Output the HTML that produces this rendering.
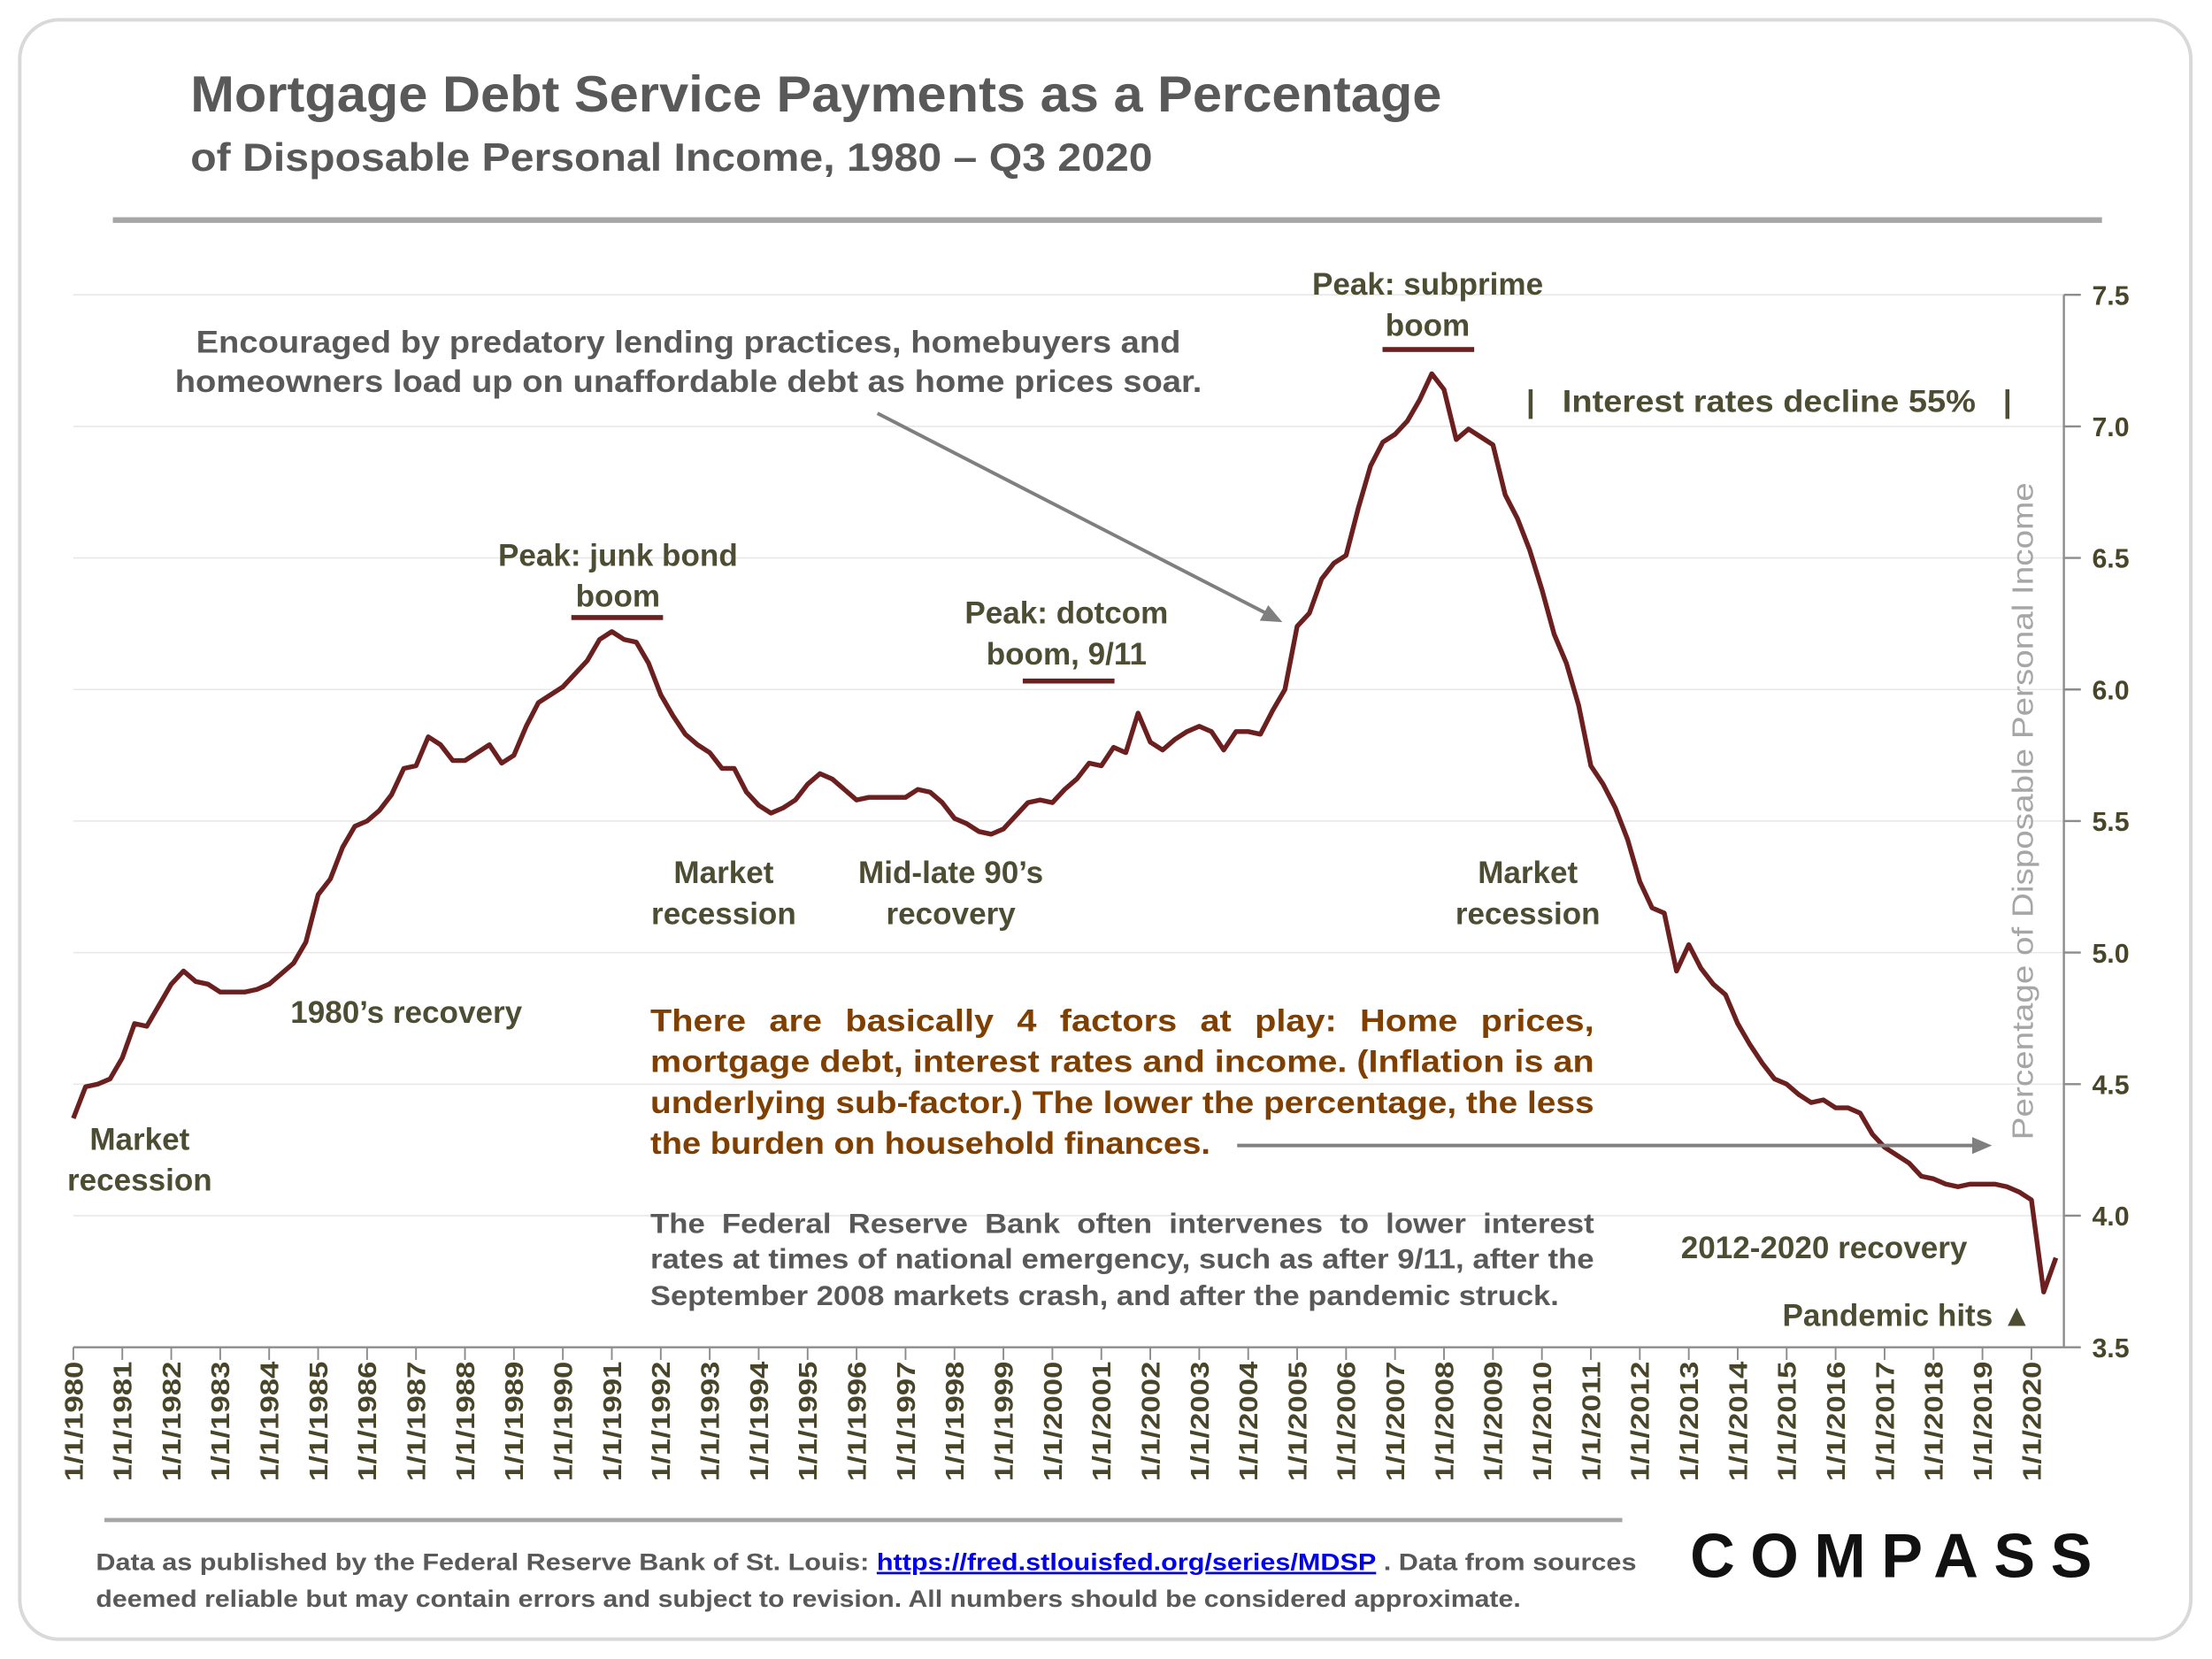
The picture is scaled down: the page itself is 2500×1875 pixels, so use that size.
<!DOCTYPE html>
<html><head><meta charset="utf-8"><style>
html,body{margin:0;padding:0;background:#fff;}
svg{display:block;}
text{font-family:"Liberation Sans",sans-serif;font-weight:bold;}
</style></head><body>
<svg id="chart" width="2500" height="1875" viewBox="0 0 1568 1176" xmlns="http://www.w3.org/2000/svg">
<rect x="14" y="14" width="1539" height="1148" rx="28" fill="#fff" stroke="#d9d9d9" stroke-width="2.5"/>
<text x="135" y="79" font-size="36" fill="#595959" textLength="887" lengthAdjust="spacingAndGlyphs">Mortgage Debt Service Payments as a Percentage</text>
<text x="135" y="121" font-size="28" fill="#595959" textLength="682" lengthAdjust="spacingAndGlyphs">of Disposable Personal Income, 1980 – Q3 2020</text>
<rect x="80" y="154" width="1410" height="4" fill="#a6a6a6"/>
<g id="grid"></g>
<g id="axes"></g>
<g id="series"></g>
<text transform="translate(1441,575) rotate(-90)" text-anchor="middle" font-size="21" fill="#a6a6a6" style="font-weight:normal" textLength="466" lengthAdjust="spacingAndGlyphs">Percentage of Disposable Personal Income</text>
<g fill="#4d4d33" font-size="22" text-anchor="middle">
<text x="1012" y="209">Peak: subprime</text>
<text x="1012" y="238">boom</text>
<rect x="980" y="246" width="65" height="3.5" fill="#6b1f1f"/>
<text x="438" y="401">Peak: junk bond</text>
<text x="438" y="430">boom</text>
<rect x="405" y="436" width="65" height="3.5" fill="#6b1f1f"/>
<text x="756" y="442">Peak: dotcom</text>
<text x="756" y="471">boom, 9/11</text>
<rect x="725" y="481" width="65" height="3.5" fill="#6b1f1f"/>
<text x="513" y="626">Market</text>
<text x="513" y="655">recession</text>
<text x="674" y="626">Mid-late 90’s</text>
<text x="674" y="655">recovery</text>
<text x="1083" y="626">Market</text>
<text x="1083" y="655">recession</text>
<text x="288" y="725">1980’s recovery</text>
<text x="99" y="815">Market</text>
<text x="99" y="844">recession</text>
<text x="1293" y="892">2012-2020 recovery</text>
<text x="1352" y="940">Pandemic hits ▲</text>
<text x="1085" y="292">|</text>
<text x="1254" y="292" textLength="293" lengthAdjust="spacingAndGlyphs">Interest rates decline 55%</text>
<text x="1423" y="292">|</text>
</g>
<g fill="#595959" font-size="22" text-anchor="middle">
<text x="488" y="250" textLength="698" lengthAdjust="spacingAndGlyphs">Encouraged by predatory lending practices, homebuyers and</text>
<text x="488" y="278" textLength="728" lengthAdjust="spacingAndGlyphs">homeowners load up on unaffordable debt as home prices soar.</text>
</g>
<line x1="622" y1="293" x2="900" y2="436" stroke="#7f7f7f" stroke-width="2.5"/>
<polygon points="909,441 893,440 899,429" fill="#7f7f7f"/>
<g fill="#7f3f00" font-size="22">
<text class="just" data-gap="16.5" data-x="461" data-w="669" y="731"><tspan>There</tspan><tspan>are</tspan><tspan>basically</tspan><tspan>4</tspan><tspan>factors</tspan><tspan>at</tspan><tspan>play:</tspan><tspan>Home</tspan><tspan>prices,</tspan></text>
<text x="461" y="760" textLength="669" lengthAdjust="spacingAndGlyphs">mortgage debt, interest rates and income. (Inflation is an</text>
<text x="461" y="789" textLength="669" lengthAdjust="spacingAndGlyphs">underlying sub-factor.) The lower the percentage, the less</text>
<text x="461" y="818" textLength="397" lengthAdjust="spacingAndGlyphs">the burden on household finances.</text>
</g>
<line x1="877" y1="812" x2="1400" y2="812" stroke="#7f7f7f" stroke-width="2.5"/>
<polygon points="1412,812 1398,806 1398,818" fill="#7f7f7f"/>
<g fill="#595959" font-size="20">
<text class="just" data-gap="12" data-x="461" data-w="669" y="874"><tspan>The</tspan><tspan>Federal</tspan><tspan>Reserve</tspan><tspan>Bank</tspan><tspan>often</tspan><tspan>intervenes</tspan><tspan>to</tspan><tspan>lower</tspan><tspan>interest</tspan></text>
<text x="461" y="899" textLength="669" lengthAdjust="spacingAndGlyphs">rates at times of national emergency, such as after 9/11, after the</text>
<text x="461" y="925" textLength="644" lengthAdjust="spacingAndGlyphs">September 2008 markets crash, and after the pandemic struck.</text>
</g>
<rect x="74" y="1076" width="1076" height="3" fill="#a6a6a6"/>
<g fill="#595959" font-size="17">
<text x="68" y="1113" textLength="1092" lengthAdjust="spacingAndGlyphs">Data as published by the Federal Reserve Bank of St. Louis: <tspan fill="#0000ee" text-decoration="underline">https://fred.stlouisfed.org/series/MDSP</tspan> . Data from sources</text>
<text x="68" y="1139" textLength="1010" lengthAdjust="spacingAndGlyphs">deemed reliable but may contain errors and subject to revision. All numbers should be considered approximate.</text>
</g>
<text x="1198" y="1118" font-size="44" fill="#111" textLength="285" lengthAdjust="spacing">COMPASS</text>
</svg>
<script>
const years = [];
for (let y = 1980; y <= 2020; y++) years.push(y);
const yTicks = [3.5, 4.0, 4.5, 5.0, 5.5, 6.0, 6.5, 7.0, 7.5];
const startYear = 1980;
const values = [
4.37,4.49,4.50,4.52, 4.60,4.73,4.72,4.80, 4.88,4.93,4.89,4.88, 4.85,4.85,4.85,4.86,
4.88,4.92,4.96,5.04, 5.22,5.28,5.40,5.48, 5.50,5.54,5.60,5.70, 5.71,5.82,5.79,5.73,
5.73,5.76,5.79,5.72, 5.75,5.86,5.95,5.98, 6.01,6.06,6.11,6.19, 6.22,6.19,6.18,6.10,
5.98,5.90,5.83,5.79, 5.76,5.70,5.70,5.61, 5.56,5.53,5.55,5.58, 5.64,5.68,5.66,5.62,
5.58,5.59,5.59,5.59, 5.59,5.62,5.61,5.57, 5.51,5.49,5.46,5.45, 5.47,5.52,5.57,5.58,
5.57,5.62,5.66,5.72, 5.71,5.78,5.76,5.91, 5.80,5.77,5.81,5.84, 5.86,5.84,5.77,5.84,
5.84,5.83,5.92,6.00, 6.24,6.29,6.42,6.48, 6.51,6.69,6.85,6.94, 6.97,7.02,7.10,7.20,
7.14,6.95,6.99,6.96, 6.93,6.74,6.65,6.53, 6.38,6.21,6.10,5.94, 5.71,5.64,5.55,5.43,
5.27,5.17,5.15,4.93, 5.03,4.94,4.88,4.84, 4.73,4.65,4.58,4.52, 4.50,4.46,4.43,4.44,
4.41,4.41,4.39,4.31, 4.26,4.23,4.20,4.15, 4.14,4.12,4.11,4.12, 4.12,4.12,4.11,4.09,
4.06,3.71,3.84];

const NS = "http://www.w3.org/2000/svg";
const X0 = 52, YEARW = (1440 - 52) / 40, AXR = 1463;
const yMin = 3.5, yMax = 7.5, YT = 209, YB = 955;
function xScale(t){ return X0 + (t - startYear) * YEARW; }
function yScale(v){ return YB - (v - yMin) / (yMax - yMin) * (YB - YT); }
function mk(tag, attrs, parent){ const e = document.createElementNS(NS, tag); for (const k in attrs) e.setAttribute(k, attrs[k]); parent.appendChild(e); return e; }

const grid = document.getElementById('grid');
const axes = document.getElementById('axes');
const series = document.getElementById('series');

yTicks.forEach(v => {
  const y = yScale(v);
  if (v > yMin) {
    const g = mk('line', {x1: X0, x2: AXR, y1: y, y2: y, stroke: '#e8e8e8', 'stroke-width': 1}, grid);
    
    
  }
  const t = mk('line', {x1: AXR, x2: AXR + 12, y1: y, y2: y, stroke: '#8c8c8c', 'stroke-width': 1.5}, axes);
  
  
  const l = mk('text', {x: 1483, y: y + 7, 'font-size': 19, fill: '#494529'}, axes);
  
  
  l.textContent = v.toFixed(1);
});
const yax = mk('line', {x1: AXR, x2: AXR, y1: YT, y2: YB, stroke: '#8c8c8c', 'stroke-width': 1.5}, axes);


const xax = mk('line', {x1: X0, x2: AXR, y1: YB, y2: YB, stroke: '#8c8c8c', 'stroke-width': 1.5}, axes);



years.forEach(yr => {
  const x = xScale(yr);
  const t = mk('line', {x1: x, x2: x, y1: YB, y2: YB + 9, stroke: '#8c8c8c', 'stroke-width': 1.2}, axes);
  
  
  const l = mk('text', {transform: `translate(${x + 6.5},${YB + 10}) rotate(-90)`, 'text-anchor': 'end', 'font-size': 18, fill: '#494529', textLength: 85, lengthAdjust: 'spacingAndGlyphs'}, axes);
  
  
  l.textContent = '1/1/' + yr;
});

let d = '';
values.forEach((v, i) => {
  const x = xScale(startYear + i / 4), y = yScale(v);
  d += (i ? 'L' : 'M') + x.toFixed(2) + ',' + y.toFixed(2);
});
const p = mk('path', {d: d, fill: 'none', stroke: '#6b1f1f', 'stroke-width': 3.4, 'stroke-linejoin': 'round'}, series);



// justify word lines
document.querySelectorAll('text.just').forEach(t => {
  const spans = Array.from(t.querySelectorAll('tspan'));
  const gap = +t.getAttribute('data-gap'), X = +t.getAttribute('data-x'), W = +t.getAttribute('data-w');
  const ws = spans.map(s => s.getComputedTextLength());
  const sum = ws.reduce((a, b) => a + b, 0);
  const c = (W - gap * (spans.length - 1)) / sum;
  let x = X;
  spans.forEach((s, i) => {
    s.setAttribute('x', x.toFixed(2));
    s.setAttribute('textLength', (ws[i] * c).toFixed(2));
    s.setAttribute('lengthAdjust', 'spacingAndGlyphs');
    x += ws[i] * c + gap;
  });
});
</script>
</body></html>
